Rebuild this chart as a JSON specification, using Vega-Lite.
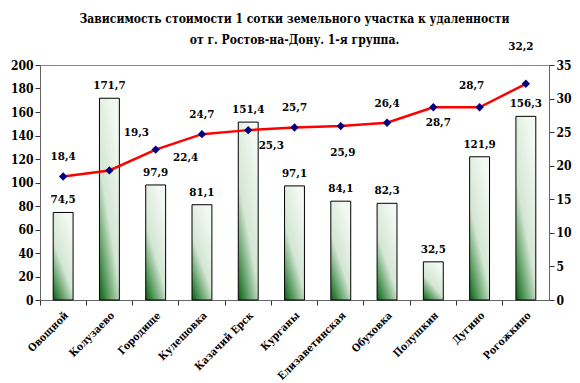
{
  "$schema": "https://vega.github.io/schema/vega-lite/v6.json",
  "width": 509,
  "height": 235,
  "autosize": {"type": "none"},
  "padding": {"left": 40, "top": 65, "right": 31, "bottom": 83},
  "config": {
    "locale": {"number": {"decimal": ",", "thousands": " ", "grouping": [3], "currency": ["", ""]}},
    "view": {"stroke": "#888888", "strokeWidth": 1},
    "font": "DejaVu Serif",
    "axis": {
      "labelFont": "DejaVu Serif Condensed", "labelFontWeight": "bold", "labelFontSize": 12, "labelColor": "#000000",
      "domainColor": "#666666", "tickColor": "#333333", "grid": false, "title": null, "tickSize": 5
    }
  },
  "title": {
    "text": ["Зависимость стоимости 1 сотки земельного участка к удаленности", "от г. Ростов-на-Дону. 1-я группа."],
    "font": "DejaVu Serif Condensed", "fontSize": 12, "fontWeight": "bold", "lineHeight": 21, "color": "#000000",
    "anchor": "middle", "offset": -6
  },
  "data": {
    "values": [
      {"name": "Овощной", "price": 74.5, "dist": 18.4},
      {"name": "Колузаево", "price": 171.7, "dist": 19.3},
      {"name": "Городище", "price": 97.9, "dist": 22.4},
      {"name": "Кулешовка", "price": 81.1, "dist": 24.7},
      {"name": "Казачий Ерск", "price": 151.4, "dist": 25.3},
      {"name": "Курганы", "price": 97.1, "dist": 25.7},
      {"name": "Елизаветинская", "price": 84.1, "dist": 25.9},
      {"name": "Обуховка", "price": 82.3, "dist": 26.4},
      {"name": "Полушкин", "price": 32.5, "dist": 28.7},
      {"name": "Дугино", "price": 121.9, "dist": 28.7},
      {"name": "Рогожкино", "price": 156.3, "dist": 32.2}
    ]
  },
  "encoding": {
    "x": {
      "field": "name", "type": "nominal", "sort": null,
      "scale": {"paddingInner": 0, "paddingOuter": 0},
      "axis": {"labelAngle": -45, "labelAlign": "right", "labelBaseline": "top", "bandPosition": 0, "labelFontSize": 10.5, "labelPadding": 5}
    }
  },
  "layer": [
    {
      "encoding": {
        "y": {"field": "price", "type": "quantitative", "scale": {"domain": [0, 200]},
          "axis": {"orient": "left", "values": [0, 20, 40, 60, 80, 100, 120, 140, 160, 180, 200]}}
      },
      "layer": [
        {
          "mark": {
            "type": "bar", "width": {"band": 0.43}, "stroke": "#000000", "strokeWidth": 1,
            "fill": {
              "gradient": "linear", "x1": 0, "y1": 1, "x2": 0.6, "y2": 0,
              "stops": [
                {"offset": 0, "color": "#0a5e12"},
                {"offset": 0.22, "color": "#5e9e64"},
                {"offset": 0.5, "color": "#d4e6d4"},
                {"offset": 1, "color": "#f2f8f2"}
              ]
            }
          }
        },
        {
          "mark": {"type": "text", "baseline": "middle", "dy": -12, "font": "DejaVu Serif Condensed", "fontWeight": "bold", "fontSize": 11.5, "color": "#000000"},
          "encoding": {"text": {"field": "price", "type": "quantitative", "format": ".1f"}}
        }
      ]
    },
    {
      "encoding": {
        "y": {"field": "dist", "type": "quantitative", "scale": {"domain": [0, 35]},
          "axis": {"orient": "right", "values": [0, 5, 10, 15, 20, 25, 30, 35]}},
        "text": {"field": "dist", "type": "quantitative", "format": ".1f"}
      },
      "layer": [
        {"mark": {"type": "line", "color": "#ff0000", "strokeWidth": 2.5}},
        {"mark": {"type": "point", "shape": "diamond", "filled": true, "color": "#000080", "size": 70, "opacity": 1}},
        {
          "transform": [{"filter": {"field": "name", "oneOf": ["Овощной", "Кулешовка", "Курганы", "Обуховка"]}}],
          "mark": {"type": "text", "baseline": "middle", "dy": -19, "font": "DejaVu Serif Condensed", "fontWeight": "bold", "fontSize": 11.5, "color": "#000000"}
        },
        {
          "transform": [{"filter": {"field": "name", "equal": "Дугино"}}],
          "mark": {"type": "text", "baseline": "middle", "dy": -21, "dx": -8, "font": "DejaVu Serif Condensed", "fontWeight": "bold", "fontSize": 11.5, "color": "#000000"}
        },
        {
          "transform": [{"filter": {"field": "name", "equal": "Рогожкино"}}],
          "mark": {"type": "text", "baseline": "middle", "dy": -37, "dx": -5, "font": "DejaVu Serif Condensed", "fontWeight": "bold", "fontSize": 11.5, "color": "#000000"}
        },
        {
          "transform": [{"filter": {"field": "name", "equal": "Колузаево"}}],
          "mark": {"type": "text", "baseline": "middle", "dy": -37, "dx": 27, "font": "DejaVu Serif Condensed", "fontWeight": "bold", "fontSize": 11.5, "color": "#000000"}
        },
        {
          "transform": [{"filter": {"field": "name", "equal": "Городище"}}],
          "mark": {"type": "text", "baseline": "middle", "dy": 8, "dx": 30, "font": "DejaVu Serif Condensed", "fontWeight": "bold", "fontSize": 11.5, "color": "#000000"}
        },
        {
          "transform": [{"filter": {"field": "name", "equal": "Казачий Ерск"}}],
          "mark": {"type": "text", "baseline": "middle", "dy": 16, "dx": 23, "font": "DejaVu Serif Condensed", "fontWeight": "bold", "fontSize": 11.5, "color": "#000000"}
        },
        {
          "transform": [{"filter": {"field": "name", "equal": "Елизаветинская"}}],
          "mark": {"type": "text", "baseline": "middle", "dy": 27, "dx": 2, "font": "DejaVu Serif Condensed", "fontWeight": "bold", "fontSize": 11.5, "color": "#000000"}
        },
        {
          "transform": [{"filter": {"field": "name", "equal": "Полушкин"}}],
          "mark": {"type": "text", "baseline": "middle", "dy": 16, "dx": 5, "font": "DejaVu Serif Condensed", "fontWeight": "bold", "fontSize": 11.5, "color": "#000000"}
        }
      ]
    }
  ],
  "resolve": {"scale": {"y": "independent"}}
}
